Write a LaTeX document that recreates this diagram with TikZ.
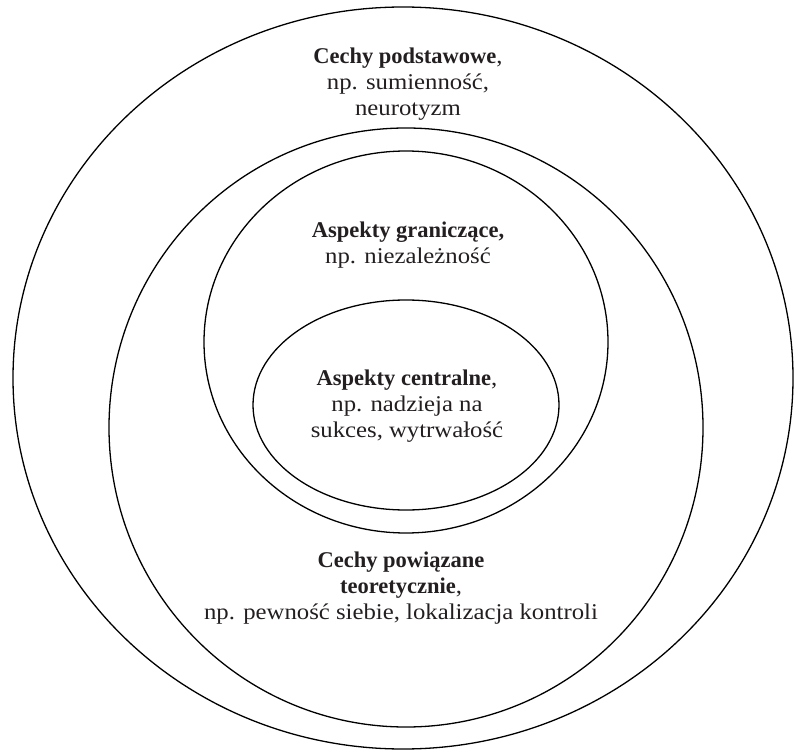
\documentclass[tikz,border=0pt]{standalone}
\usepackage{fontspec}
\setmainfont[FakeStretch=1.1,BoldFeatures={FakeStretch=1.0}]{Liberation Serif}
\definecolor{ink}{HTML}{231F20}
\begin{document}
\begin{tikzpicture}[x=1pt,y=-1pt,
  ring/.style={draw=black,line width=1.3pt},
  label/.style={anchor=north,align=center,inner sep=0pt,text=ink,
    font=\fontsize{22.5}{26}\selectfont}]
\useasboundingbox (0,0) rectangle (795,751);
% ellipses
\draw[ring] (403,378) ellipse [x radius=390pt, y radius=371pt];
\draw[ring] (406,427.5) ellipse [x radius=297pt, y radius=299.5pt];
\draw[ring] (406,342) ellipse [x radius=202pt, y radius=191pt];
\draw[ring] (406,405) ellipse [x radius=153pt, y radius=105pt];
% labels
\node[label] (podst) at (408,47.8) {\textbf{Cechy podstawowe},\\np. sumienność,\\neurotyzm};
\node[label] (gran) at (408,221.8) {\textbf{Aspekty graniczące,}\\np. niezależność};
\node[label] (centr) at (407,369.8) {\textbf{Aspekty centralne},\\np. nadzieja na\\sukces, wytrwałość};
\node[label] (powiaz) at (401,551.8) {\textbf{Cechy powiązane}\\\textbf{teoretycznie},\\np. pewność siebie, lokalizacja kontroli};
\end{tikzpicture}
\end{document}
